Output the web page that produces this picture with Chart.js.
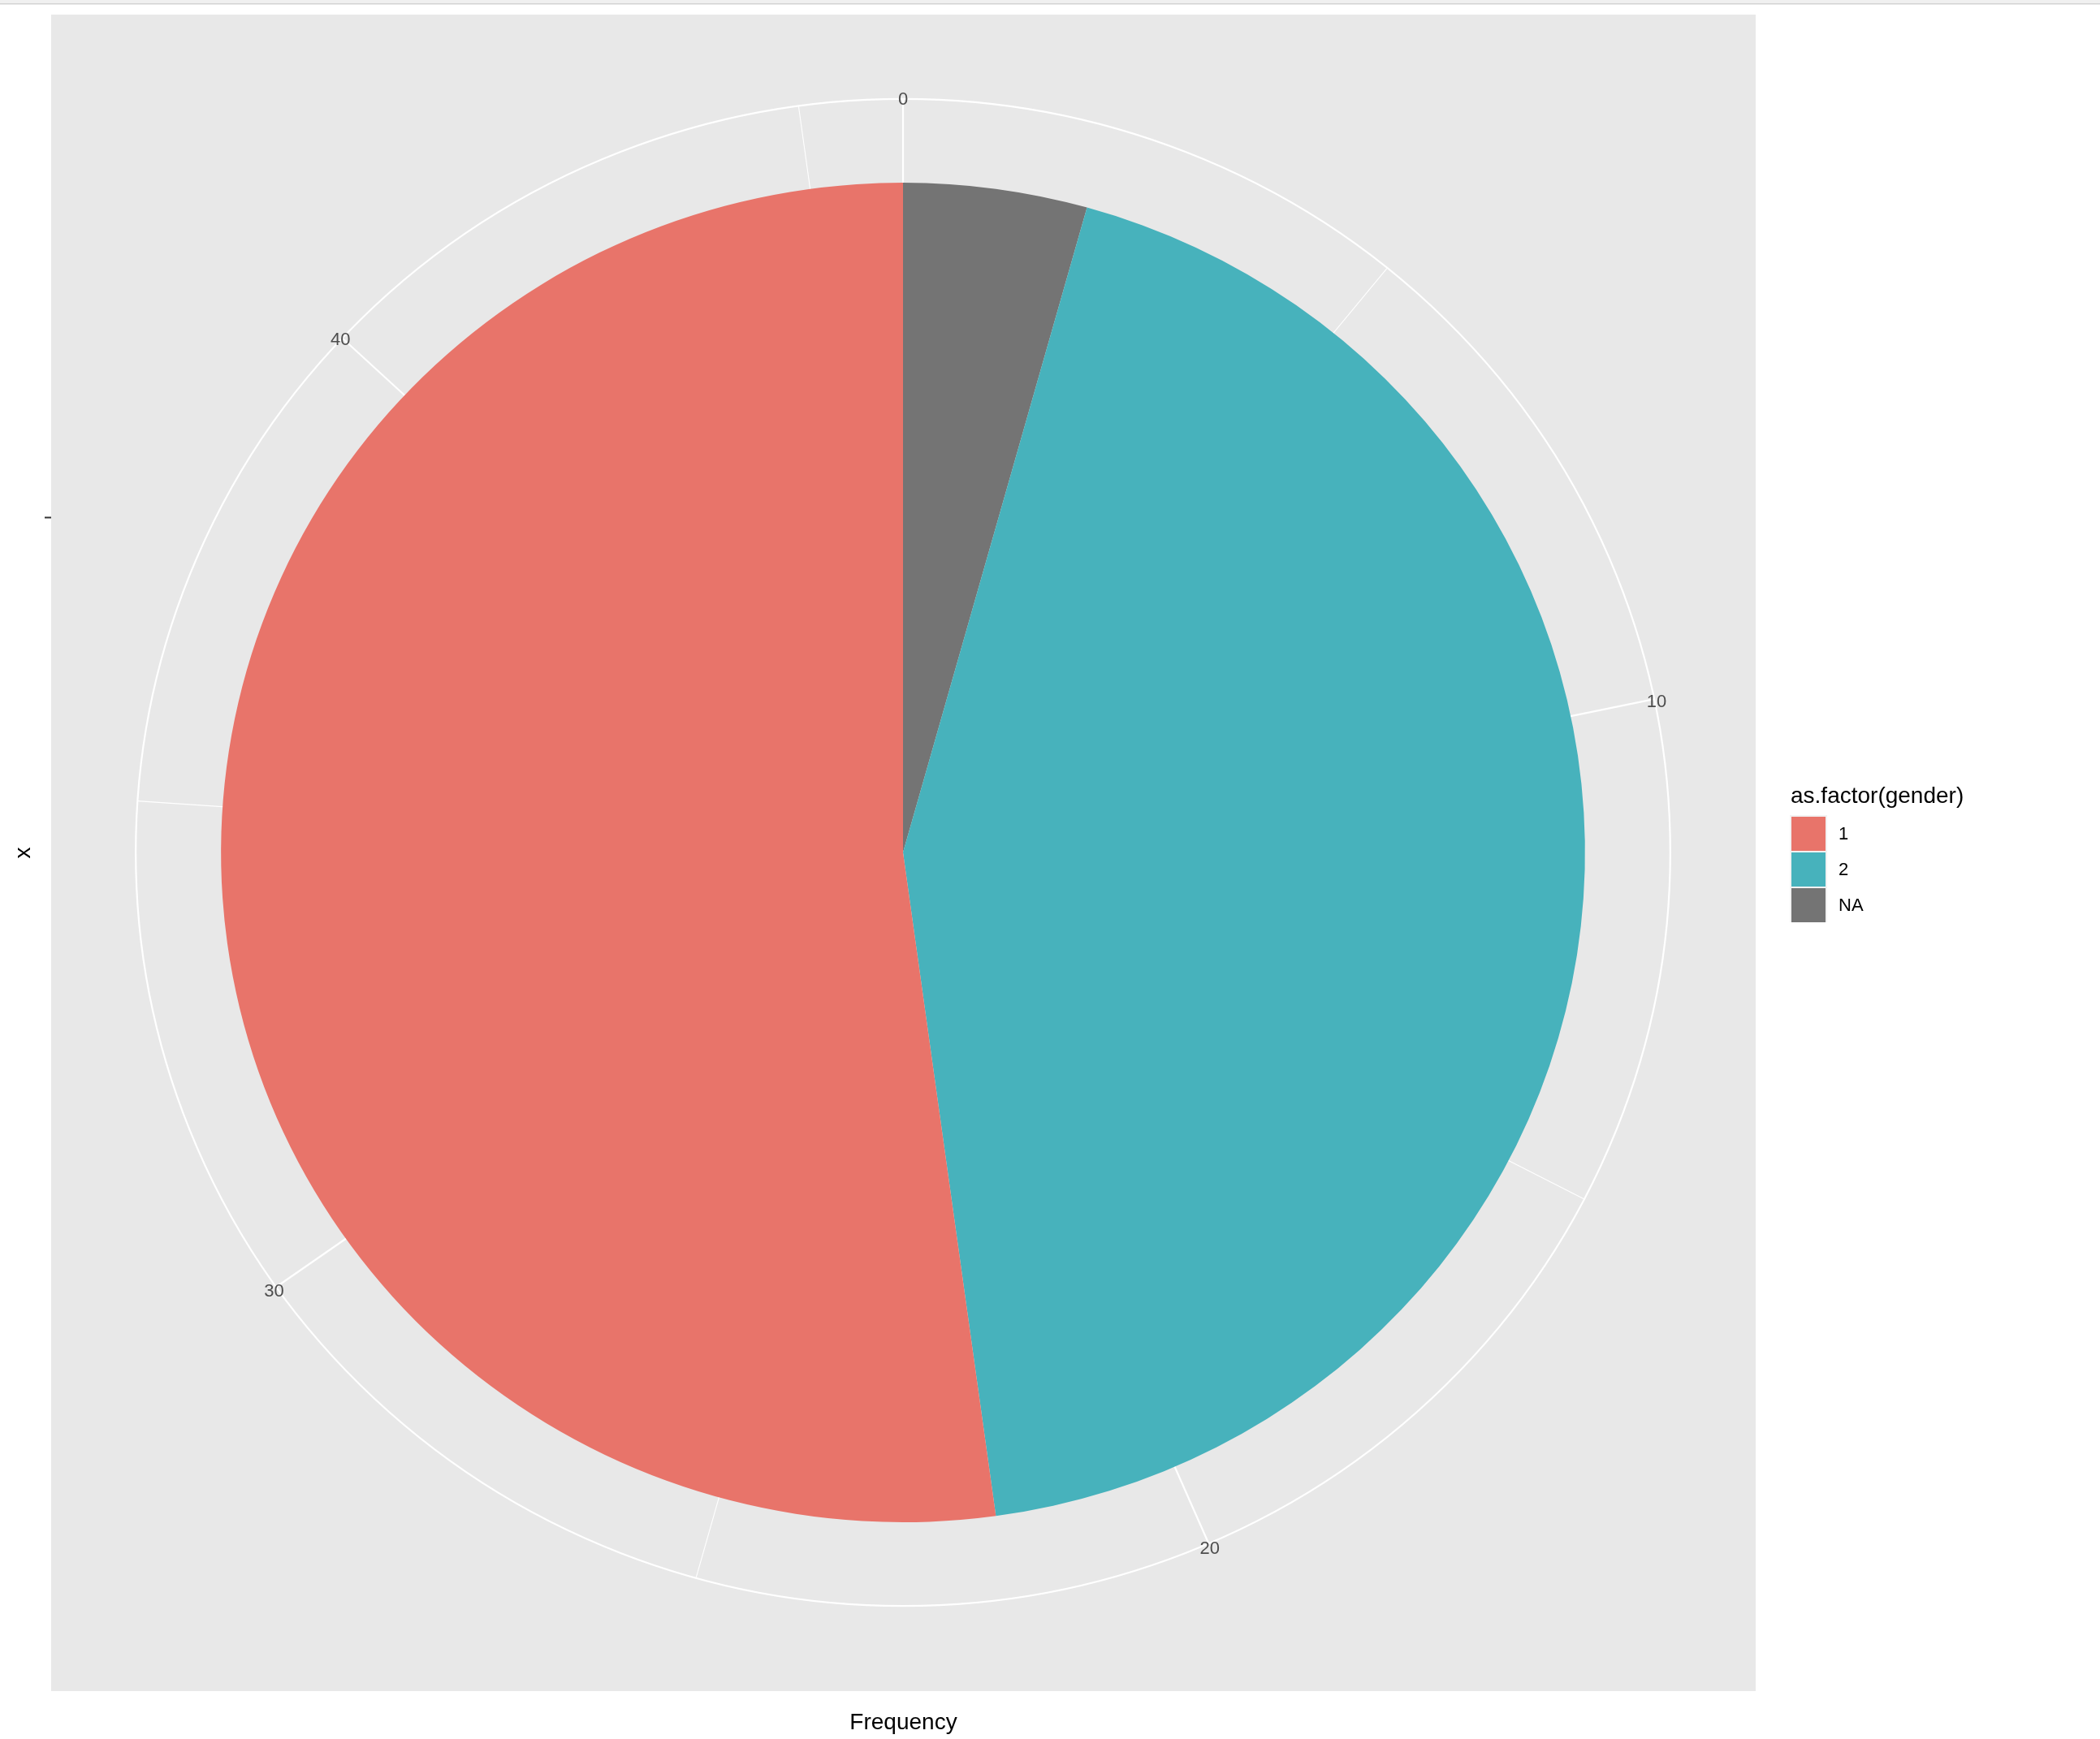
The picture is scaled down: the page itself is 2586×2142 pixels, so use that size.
<!DOCTYPE html>
<html>
<head>
<meta charset="utf-8">
<script src="https://cdn.jsdelivr.net/npm/chart.js@4.4.1/dist/chart.umd.min.js"></script>
<style>
  html, body { margin: 0; padding: 0; background: #fff; }
  #pie { display: block; }
</style>
</head>
<body>
<canvas id="pie" width="2586" height="2142"></canvas>
<script>
// counts per gender, in legend order
const genders = ["1", "2", "NA"];
const frequency = [24, 20, 2];
const genderColors = ["#E8746A", "#47B2BC", "#747474"];
// theta axis breaks (cumulative frequency)
const thetaBreaks = [0, 10, 20, 30, 40];
const thetaMinor = [5, 15, 25, 35, 45];

const FONT = '"Liberation Sans", Arial, Helvetica, sans-serif';
const SX = 1.018; // the saved plot is a bit wider than tall
const PANEL = { left: 63, top: 18, right: 2162, bottom: 2083 };

function geom(chart) {
    const meta = chart.getDatasetMeta(0);
    const arc = meta.data[0];
    const total = meta.total || frequency.reduce((a, b) => a + b, 0);
    return { cx: arc.x, cy: arc.y, r: arc.outerRadius, total: total };
}

function polar(g, v, rr) {
    const a = 2 * Math.PI * v / g.total;
    return [g.cx + SX * rr * Math.sin(a), g.cy - rr * Math.cos(a)];
}

const ggPolar = {
    id: 'ggPolar',
    beforeDraw(chart) {
        const ctx = chart.ctx;
        const g = geom(chart);
        const R = g.r * 1.125;
        ctx.save();
        ctx.fillStyle = '#fff';
        ctx.fillRect(0, 0, chart.width, chart.height);
        ctx.fillStyle = '#F0F0F0';
        ctx.fillRect(0, 0, chart.width, 4);
        ctx.fillStyle = '#D3D3D3';
        ctx.fillRect(0, 4, chart.width, 1.5);
        ctx.fillStyle = '#E8E8E8';
        ctx.fillRect(PANEL.left, PANEL.top, PANEL.right - PANEL.left, PANEL.bottom - PANEL.top);

        ctx.strokeStyle = '#FFFFFF';
        ctx.lineWidth = 1.1;
        thetaMinor.forEach(function (v) {
            const p = polar(g, v, R);
            ctx.beginPath();
            ctx.moveTo(g.cx, g.cy);
            ctx.lineTo(p[0], p[1]);
            ctx.stroke();
        });
        ctx.lineWidth = 2.2;
        thetaBreaks.forEach(function (v) {
            const p = polar(g, v, R);
            ctx.beginPath();
            ctx.moveTo(g.cx, g.cy);
            ctx.lineTo(p[0], p[1]);
            ctx.stroke();
        });
        ctx.beginPath();
        ctx.ellipse(g.cx, g.cy, R * SX, R, 0, 0, 2 * Math.PI);
        ctx.stroke();
        ctx.restore();
    },
    beforeDatasetsDraw(chart) {
        const g = geom(chart);
        const ctx = chart.ctx;
        ctx.save();
        ctx.translate(g.cx, g.cy);
        ctx.scale(SX, 1);
        ctx.translate(-g.cx, -g.cy);
    },
    afterDatasetsDraw(chart) {
        chart.ctx.restore();
    },
    afterDraw(chart) {
        const ctx = chart.ctx;
        const g = geom(chart);
        const R = g.r * 1.125;
        ctx.save();

        // theta labels
        ctx.fillStyle = '#4D4D4D';
        ctx.font = '22px ' + FONT;
        ctx.textAlign = 'center';
        ctx.textBaseline = 'middle';
        thetaBreaks.forEach(function (v) {
            const p = polar(g, v, R + 3);
            ctx.fillText(String(v), p[0], p[1] + 4);
        });

        // y axis tick for the single (empty) x category
        ctx.strokeStyle = '#333333';
        ctx.lineWidth = 2;
        const ty = g.cy - g.r * 0.5;
        ctx.beginPath();
        ctx.moveTo(PANEL.left - 8, ty);
        ctx.lineTo(PANEL.left, ty);
        ctx.stroke();

        // axis titles
        ctx.fillStyle = '#000';
        ctx.font = '28px ' + FONT;
        ctx.textBaseline = 'alphabetic';
        ctx.fillText('Frequency', (PANEL.left + PANEL.right) / 2, 2130);
        ctx.save();
        ctx.translate(37, (PANEL.top + PANEL.bottom) / 2);
        ctx.rotate(-Math.PI / 2);
        ctx.textBaseline = 'alphabetic';
        ctx.fillText('x', 0, 0);
        ctx.restore();

        // legend
        ctx.textAlign = 'left';
        ctx.fillText('as.factor(gender)', 2205, 989);
        ctx.fillStyle = '#F2F2F2';
        ctx.fillRect(2204, 1004, 46, 132);
        ctx.font = '22px ' + FONT;
        ctx.textBaseline = 'middle';
        genders.forEach(function (lab, i) {
            const y = 1006 + i * 44;
            ctx.fillStyle = genderColors[i];
            ctx.fillRect(2206, y, 42, 42);
            ctx.fillStyle = '#000';
            ctx.fillText(lab, 2264, y + 22);
        });
        ctx.restore();
    }
};

// slices run clockwise from the top: NA, 2, then 1
const order = [2, 1, 0];

new Chart(document.getElementById('pie'), {
    type: 'pie',
    data: {
        labels: order.map(i => genders[i]),
        datasets: [{
            data: order.map(i => frequency[i]),
            backgroundColor: order.map(i => genderColors[i]),
            borderWidth: 0
        }]
    },
    options: {
        responsive: false,
        animation: false,
        events: [],
        layout: {
            padding: { left: 287, right: 649, top: 225, bottom: 267 }
        },
        plugins: {
            legend: { display: false },
            tooltip: { enabled: false }
        }
    },
    plugins: [ggPolar]
});
</script>
</body>
</html>
